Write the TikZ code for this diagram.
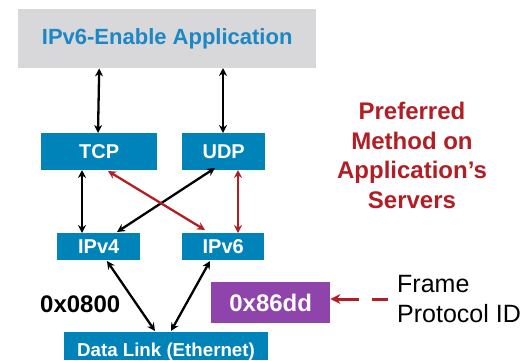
\documentclass[tikz,border=0pt]{standalone}
\usepackage{fontspec}
\setmainfont{Liberation Sans}
\usetikzlibrary{arrows.meta}
\definecolor{boxblue}{RGB}{0,131,184}
\definecolor{appgray}{RGB}{216,216,219}
\definecolor{apptext}{RGB}{27,135,196}
\definecolor{darkred}{RGB}{178,30,36}
\definecolor{idpurple}{RGB}{142,68,170}
\tikzset{
  layer/.style={fill=boxblue, text=white, font=\bfseries\fontsize{20}{24}\selectfont, inner sep=0pt, anchor=north west},
  biarrow/.style={line width=2.3pt, {Stealth[length=8pt,width=8pt]}-{Stealth[length=8pt,width=8pt]}},
  blackarrow/.style={biarrow, black},
  redarrow/.style={biarrow, darkred},
}
\begin{document}
\begin{tikzpicture}[x=1pt,y=-1pt]
\useasboundingbox (0,0) rectangle (531,360);
% application box
\node[fill=appgray, text=apptext, font=\bfseries\fontsize{22}{26}\selectfont, minimum width=298pt, minimum height=59pt, inner sep=0pt, anchor=north west] (app) at (18,9) {IPv6-Enable Application};
% layers
\node[layer, minimum width=116pt, minimum height=37pt] (tcp) at (41,133) {TCP};
\node[layer, minimum width=83pt, minimum height=37pt] (udp) at (182,133) {UDP};
\node[layer, minimum width=83pt, minimum height=27pt] (ipv4) at (57,233) {IPv4};
\node[layer, minimum width=82pt, minimum height=27pt] (ipv6) at (182,233) {IPv6};
\node[layer, minimum width=204pt, minimum height=28pt] (dl) at (64,332) {};
\node[text=white, font=\bfseries\fontsize{18.7}{22}\selectfont, anchor=base] (dltext) at (166,356) {Data Link (Ethernet)};
\node[fill=idpurple, text=white, font=\bfseries\fontsize{24}{28}\selectfont, minimum width=119pt, minimum height=41pt, inner sep=0pt, anchor=north west] (pid) at (211,282) {0x86dd};
% labels
\node[font=\bfseries\fontsize{24}{28}\selectfont, anchor=west, inner sep=0pt] (hex4) at (40,304) {0x0800};
\node[font=\fontsize{25}{30}\selectfont, align=left, anchor=north west, inner sep=0pt] (frame) at (397,275) {Frame\\Protocol ID};
\node[text=darkred, font=\bfseries\fontsize{24}{29.5}\selectfont, align=center, anchor=north, inner sep=0pt] (pref) at (412,102) {Preferred\\Method on\\Application’s\\Servers};
% connectors
\draw[blackarrow] ([xshift=-68pt]app.south) -- (tcp.north -| 98,0);
\draw[blackarrow] (223,68) coordinate (appu) -- (appu |- udp.north);
\draw[blackarrow] (82,170) coordinate (tcpb) -- (tcpb |- ipv4.north);
\draw[blackarrow] (215,168) coordinate (udpb) -- (117,232) coordinate (ip4t);
\draw[redarrow] (108,171) coordinate (tcpr) -- (205,230) coordinate (ip6t);
\draw[redarrow] (238,170) coordinate (udpr) -- (udpr |- ipv6.north);
\draw[blackarrow] (107,261) coordinate (ip4b) -- (155,331) coordinate (dl1);
\draw[blackarrow] (210,261) coordinate (ip6b) -- (171,331) coordinate (dl2);
\coordinate (dashstart) at (388,299);
\draw[darkred, line width=3pt, dash pattern=on 16pt off 13pt on 60pt, -{Stealth[length=10pt,width=10pt]}] (dashstart) -- (dashstart -| pid.east);
\end{tikzpicture}
\end{document}
